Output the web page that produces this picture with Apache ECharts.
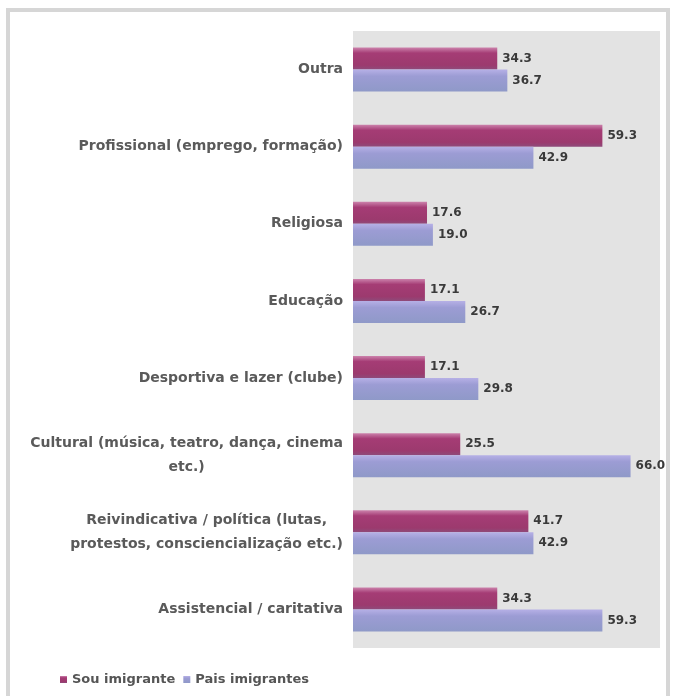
<!DOCTYPE html>
<html><head><meta charset="utf-8">
<script src="https://cdn.jsdelivr.net/npm/echarts@6/dist/echarts.min.js"></script>
<style>html,body{margin:0;padding:0;background:#fff}#c{width:675px;height:696px}</style>
</head><body><div id="c"></div>
<script>
var categories = [
  "Outra",
  "Profissional (emprego, formação)",
  "Religiosa",
  "Educação",
  "Desportiva e lazer (clube)",
  "Cultural (música, teatro, dança, cinema\netc.)",
  "Reivindicativa / política (lutas,\nprotestos, consciencialização etc.)",
  "Assistencial / caritativa"
];
var seriesNames = ["Sou imigrante", "Pais imigrantes"];
var souImigrante = [34.3, 59.3, 17.6, 17.1, 17.1, 25.5, 41.7, 34.3];
var paisImigrantes = [36.7, 42.9, 19.0, 26.7, 29.8, 66.0, 42.9, 59.3];

var chart = echarts.init(document.getElementById('c'), null, {renderer: 'canvas'});
var magenta = new echarts.graphic.LinearGradient(0,0,0,1,[
  {offset:0,color:'#cc82ac'},{offset:0.25,color:'#a53c75'},{offset:0.8,color:'#9c3a6e'},{offset:1,color:'#8e4a7a'}]);
var blue = new echarts.graphic.LinearGradient(0,0,0,1,[
  {offset:0,color:'#b6b0e6'},{offset:0.3,color:'#9c9cd4'},{offset:1,color:'#8f99c8'}]);
var labelStyle = {show:true, position:'right', distance:5, color:'#3a3a3a', fontFamily:'DejaVu Sans', fontWeight:'bold', fontSize:12,
  formatter:function(p){return p.value.toFixed(1);}};
var catText = {color:'#5a5a5a', fontFamily:'DejaVu Sans', fontSize:14, fontWeight:'bold', lineHeight:24, align:'center'};
chart.setOption({
  animation:false,
  backgroundColor:'#ffffff',
  graphic:[
    {type:'rect', shape:{x:8,y:10,width:660,height:720}, style:{fill:'none', stroke:'#d6d6d6', lineWidth:4}, z:-10},
    {type:'rect', shape:{x:353,y:31,width:307,height:617}, style:{fill:'#e3e3e3'}, z:-5}
  ],
  grid:{left:353, right:15, top:31, bottom:48, containLabel:false},
  legend:{left:55, top:668, itemWidth:7, itemHeight:7, itemGap:8, icon:'rect',
    textStyle:{color:'#555', fontFamily:'DejaVu Sans', fontSize:13, fontWeight:'bold'},
    data:seriesNames},
  xAxis:{type:'value', min:0, max:73, show:false},
  yAxis:{type:'category', data:categories, inverse:true,
    axisLine:{show:false}, axisTick:{show:false},
    axisLabel:{margin:10, color:'#5a5a5a', fontFamily:'DejaVu Sans', fontSize:14, fontWeight:'bold', lineHeight:24, align:'right',
      formatter:function(v){return v.split('\n').map(function(s){return '{c|'+s+'}';}).join('\n');},
      rich:{c:catText}}},
  series:[
    {name:seriesNames[0], type:'bar', data:souImigrante, barWidth:22, barGap:'0%',
      itemStyle:{color:magenta}, label:labelStyle},
    {name:seriesNames[1], type:'bar', data:paisImigrantes, barWidth:22, barGap:'0%',
      itemStyle:{color:blue}, label:labelStyle}
  ]
});
</script></body></html>
